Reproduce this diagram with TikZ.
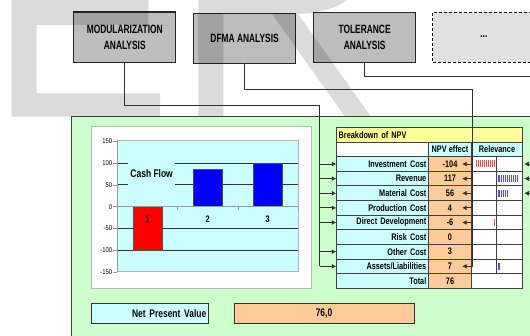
\documentclass[tikz,border=0pt]{standalone}
\usepackage{fontspec}
\setmainfont{Liberation Sans}
\newfontfamily\cndA[FakeStretch=0.7]{Liberation Sans}
\newfontfamily\cndB[FakeStretch=0.84]{Liberation Sans}
\newfontfamily\cndC[FakeStretch=0.77]{Liberation Sans}
\usetikzlibrary{arrows.meta}
\definecolor{boxgrey}{HTML}{BDBDBD}
\definecolor{dashgrey}{HTML}{E2E2E2}
\definecolor{panelgreen}{HTML}{CCFFCC}
\definecolor{cellcyan}{HTML}{CCFFFF}
\definecolor{cellorange}{HTML}{FFCC99}
\definecolor{cellyellow}{HTML}{FFFF99}
\definecolor{barred}{HTML}{FF0000}
\definecolor{barblue}{HTML}{0000FF}
\definecolor{relred}{HTML}{FF4A4A}
\definecolor{relblue}{HTML}{4A4AFF}
\definecolor{linegrey}{HTML}{303030}
\newcommand{\asslia}{Assets/Liabilities}
\begin{document}
\begin{tikzpicture}[x=1pt,y=-1pt,
  anabox/.style={draw=black!85, line width=0.9pt, fill=boxgrey, minimum width=102pt, minimum height=50pt, inner sep=0pt, align=center, font=\cndA\bfseries\fontsize{12}{16}\selectfont},
  conn/.style={draw=linegrey, line width=0.9pt},
  arr/.style={conn, -{Latex[length=4.5pt,width=5pt]}},
  tabfont/.style={font=\cndC\bfseries\fontsize{9.5}{10}\selectfont},
  lblcell/.style={tabfont, draw=black!75, line width=0.9pt, fill=cellcyan, minimum height=14.62pt, text width=87.6pt, inner xsep=2pt, inner ysep=0pt, align=right},
  valcell/.style={tabfont, draw=black!75, line width=0.9pt, fill=cellorange, minimum width=43.4pt, minimum height=14.62pt, inner sep=0pt},
  relcell/.style={draw=black!75, line width=0.9pt, fill=white, minimum height=14.62pt, inner sep=0pt},
  gridl/.style={draw=black!80, line width=0.8pt},
  barst/.style={draw=black!70, line width=0.4pt},
  stripe/.style={draw=white, line width=0.5pt},
  axlbl/.style={anchor=east, inner sep=0pt, font=\cndB\fontsize{7}{8}\selectfont},
  bigfont/.style={font=\cndC\bfseries\fontsize{11}{13}\selectfont}
]
\useasboundingbox (0,0) rectangle (530,336);
\fill[white] (0,0) rectangle (530,336);

% top analysis boxes
\node[anabox] (mod) at (124.75,37) {MODULARIZATION\\ANALYSIS};
\draw[line width=2pt, black!85] (mod.north west) -- (mod.north east);
\node[anabox] (dfma) at (244.6,38) {DFMA ANALYSIS};
\node[anabox] (tol) at (364.6,37.3) {TOLERANCE\\ANALYSIS};
\node[anabox, fill=dashgrey, draw=black, dash pattern=on 3pt off 2pt] (more) at (483.85,37) {...};

% watermark
\fill[black, opacity=0.14]
  (11.7,0) -- (148.3,0) -- (148.3,25) -- (36.7,25) -- (36.7,93.3) -- (160,93.3) -- (160,116.7) -- (11.7,116.7) -- cycle
  (198.3,0) -- (347,0) .. controls (335,9) and (318,13) .. (298,14) -- (371,116.7) -- (345,116.7) -- (272,14) -- (223.3,14) -- (223.3,116.7) -- (198.3,116.7) -- cycle;

% green panel
\draw[draw=black!75, line width=0.9pt, fill=panelgreen] (71,116) rectangle (540,345);

% chart
\draw[draw=gray!55, line width=0.8pt, fill=white] (91.7,126.5) rectangle (311.7,288.5);
\draw[draw=gray!60, line width=0.6pt, fill=cellcyan] (117.3,140.7) rectangle (298.3,271.7);
\foreach \v in {100,50,-50,-100}{
  \pgfmathsetmacro\yy{206.7-0.4367*\v}
  \draw[gridl] (117.3,\yy) -- (298.3,\yy);
}
\draw[gray!80, line width=0.6pt] (117.3,140.7) -- (117.3,271.7);
\foreach \v [count=\k] in {150,100,50,0,-50,-100,-150}{
  \pgfmathsetmacro\yy{206.7-0.4367*\v}
  \draw[gray!80, line width=0.6pt] (113.3,\yy) -- (117.3,\yy);
  \node[axlbl] (yl\k) at (112.3,\yy) {\v};
}
\draw[barst, fill=barred] (132.7,206.7) rectangle (161.7,250.4);
\draw[barst, fill=barblue] (192.7,169.6) rectangle (222.3,206.7);
\draw[barst, fill=barblue] (252.7,163.0) rectangle (282.3,206.7);
\draw[gray!80, line width=0.6pt] (117.3,206.7) -- (298.3,206.7);
\foreach \tx in {177.3,238.3,298.3}{
  \draw[gray!80, line width=0.6pt] (\tx,206.7) -- (\tx,210);
}
\node[fill=cellcyan, minimum width=46.7pt, minimum height=29pt, inner sep=0pt, bigfont] (cashflow) at (151.65,174) {Cash Flow};
\node[tabfont] (cat1) at (147.3,219.3) {1};
\node[tabfont] (cat2) at (207.7,219.3) {2};
\node[tabfont] (cat3) at (267.7,219.3) {3};

% table
\node[tabfont, draw=black!75, line width=0.9pt, fill=cellyellow, minimum height=15pt, text width=181.6pt, inner xsep=2pt, inner ysep=0pt, align=left] (title) at (429.5,134.8) {Breakdown of NPV};
\node[relcell, minimum width=91.6pt, minimum height=14.4pt] (hblank) at (382.5,149.5) {};
\node[valcell, fill=cellcyan, minimum height=14.4pt] (hnpv) at (450,149.5) {NPV effect};
\node[relcell, tabfont, fill=cellcyan, minimum width=50.6pt, minimum height=14.4pt] (hrel) at (497,149.5) {Relevance};
\foreach \i/\lab/\val in {1/Investment Cost/-104, 2/Revenue/117, 3/Material Cost/56, 4/Production Cost/4, 5/Direct Development/-6, 6/Risk Cost/0, 7/Other Cost/3, 8/\asslia/7, 9/Total/76}{
  \pgfmathsetmacro\ry{156.7+(\i-0.5)*14.62}
  \node[lblcell] (lab\i) at (382.5,\ry) {\lab};
  \node[valcell] (val\i) at (450,\ry) {\val};
  \ifnum\i<9
    \node[relcell, minimum width=25pt] (relA\i) at (484.2,\ry) {};
    \node[relcell, minimum width=25.6pt] (relB\i) at (509.5,\ry) {};
  \else
    \node[relcell, minimum width=50.6pt] (relT) at (497,\ry) {};
  \fi
}
% relevance bars (striped)
\fill[relred] (475.7,160.5) rectangle (494.7,167.5);
\foreach \sx in {477.2,479.2,...,493.3}{ \draw[stripe] (\sx,160.5) -- (\sx,167.5); }
\fill[relblue] (498.3,175.1) rectangle (519.3,182.1);
\foreach \sx in {499.8,501.8,...,518}{ \draw[stripe] (\sx,175.1) -- (\sx,182.1); }
\fill[relblue] (498.3,189.7) rectangle (509,196.7);
\foreach \sx in {499.8,501.8,...,508}{ \draw[stripe] (\sx,189.7) -- (\sx,196.7); }
\fill[relred] (493.6,219) rectangle (495,226);
\fill[relblue] (498.3,262.9) rectangle (499.7,269.9);

% NPV summary
\node[draw=black!80, line width=0.9pt, fill=cellcyan, minimum height=20pt, text width=112.6pt, inner xsep=2pt, inner ysep=0pt, align=right, bigfont] (npv) at (150,313.3) {Net Present Value};
\node[draw=black!80, line width=0.9pt, fill=cellorange, minimum width=180pt, minimum height=20pt, inner sep=0pt, bigfont] (npvval) at (324,313.3) {76,0};

% connectors
\coordinate (mtop) at (319.5,105);
\coordinate (mbot) at (319.5,266.4);
\draw[conn] (mod.south) |- (mtop) -- (mbot);
\foreach \i in {1,2,3,4,5,7,8}{
  \draw[arr] (mtop |- lab\i.west) -- (lab\i.west);
}
\coordinate (dtop) at (472.6,89);
\coordinate (dbot) at (472.6,266.4);
\draw[conn] (dfma.south) |- (dtop) -- (dbot);
\foreach \i in {1,2,3,4,5,8}{
  \draw[arr] (dtop |- val\i.east) -- ([xshift=-10pt]val\i.east);
}
\coordinate (ttop) at (536,76.7);
\draw[conn] (tol.south) |- (ttop);
\foreach \i in {1,2,3}{
  \draw[arr] (ttop |- relB\i.east) -- ([xshift=1.5pt]relB\i.east);
}
\end{tikzpicture}
\end{document}
